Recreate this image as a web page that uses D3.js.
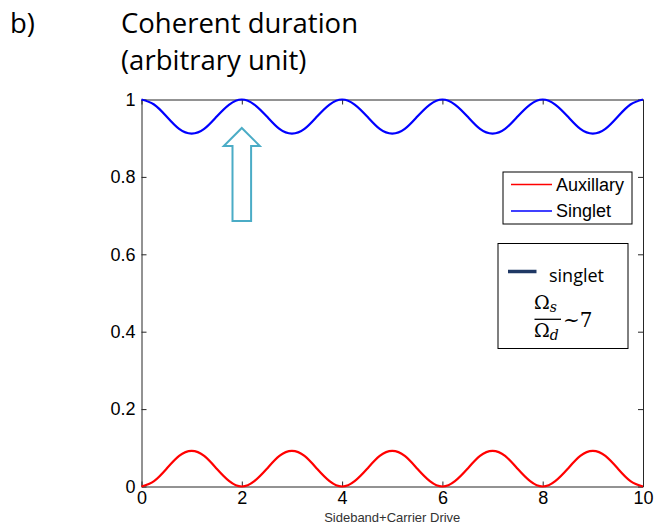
<!DOCTYPE html>
<html>
<head>
<meta charset="utf-8">
<script src="https://cdn.jsdelivr.net/npm/d3@7"></script>
<style>
  html, body { margin: 0; padding: 0; background: #fff; }
  svg { display: block; }
</style>
</head>
<body>
<div id="chart"></div>
<script>
// Drive parameter samples (x axis)
const drive = [
  0, 0.25, 0.5, 0.75, 1, 1.25, 1.5, 1.75,
  2, 2.25, 2.5, 2.75, 3, 3.25, 3.5, 3.75,
  4, 4.25, 4.5, 4.75, 5, 5.25, 5.5, 5.75,
  6, 6.25, 6.5, 6.75, 7, 7.25, 7.5, 7.75,
  8, 8.25, 8.5, 8.75, 9, 9.25, 9.5, 9.75, 10
];
// Coherent duration of the auxillary level
const auxillary = [
  0, 0.014, 0.046, 0.079, 0.092, 0.079, 0.046, 0.014,
  0, 0.014, 0.046, 0.079, 0.092, 0.079, 0.046, 0.014,
  0, 0.014, 0.046, 0.079, 0.092, 0.079, 0.046, 0.014,
  0, 0.014, 0.046, 0.079, 0.092, 0.079, 0.046, 0.014,
  0, 0.014, 0.046, 0.079, 0.092, 0.079, 0.046, 0.014, 0
];
// Coherent duration of the singlet level
const singlet = [
  1, 0.987, 0.956, 0.924, 0.912, 0.924, 0.956, 0.987,
  1, 0.987, 0.956, 0.924, 0.912, 0.924, 0.956, 0.987,
  1, 0.987, 0.956, 0.924, 0.912, 0.924, 0.956, 0.987,
  1, 0.987, 0.956, 0.924, 0.912, 0.924, 0.956, 0.987,
  1, 0.987, 0.956, 0.924, 0.912, 0.924, 0.956, 0.987, 1
];
const xTicks = [0, 2, 4, 6, 8, 10];
const yTicks = [0, 0.2, 0.4, 0.6, 0.8, 1];
const seriesNames = ["Auxillary", "Singlet"];
const seriesColors = ["#ff0000", "#0000ff"];

const W = 654, H = 525;
const plot = { left: 141.5, right: 643, top: 99.5, bottom: 486.5 };

const svg = d3.select("#chart").append("svg")
  .attr("width", W).attr("height", H);

const x = d3.scaleLinear().domain([0, 10]).range([plot.left, plot.right]);
const y = d3.scaleLinear().domain([0, 1]).range([plot.bottom, plot.top]);

// Heading
const headFont = "'Open Sans', 'DejaVu Sans', sans-serif";
svg.append("text").attr("x", 10).attr("y", 33)
  .attr("font-family", headFont).attr("font-size", 27.5).attr("fill", "#000")
  .text("b)");
svg.append("text").attr("x", 121).attr("y", 33)
  .attr("font-family", headFont).attr("font-size", 27.5).attr("fill", "#000")
  .text("Coherent duration");
svg.append("text").attr("x", 121).attr("y", 70)
  .attr("font-family", headFont).attr("font-size", 27.5).attr("fill", "#000")
  .text("(arbitrary unit)");

// Axes: inward ticks on all four sides
const axisFont = "'Liberation Sans', Arial, sans-serif";
const frameColor = "#262626";

function styleAxis(g) {
  g.selectAll(".domain").attr("stroke", frameColor).attr("stroke-width", 1);
  g.selectAll(".tick line").attr("stroke", frameColor);
  g.selectAll(".tick text").attr("fill", "#000")
    .attr("font-family", axisFont).attr("font-size", 18);
}

svg.append("g").attr("transform", `translate(0,${plot.bottom})`)
  .call(d3.axisBottom(x).tickValues(xTicks).tickFormat(d3.format("d"))
    .tickSizeInner(-5).tickSizeOuter(0).tickPadding(5))
  .call(styleAxis);

svg.append("g").attr("transform", `translate(${plot.left},0)`)
  .call(d3.axisLeft(y).tickValues(yTicks).tickFormat(d => d === 0 || d === 1 ? String(d) : d3.format(".1f")(d))
    .tickSizeInner(-5).tickSizeOuter(0).tickPadding(6))
  .call(styleAxis);

svg.append("g").attr("transform", `translate(0,${plot.top})`)
  .call(d3.axisTop(x).tickValues(xTicks).tickFormat("")
    .tickSizeInner(-5).tickSizeOuter(0))
  .call(styleAxis);

svg.append("g").attr("transform", `translate(${plot.right},0)`)
  .call(d3.axisRight(y).tickValues(yTicks).tickFormat("")
    .tickSizeInner(-5).tickSizeOuter(0))
  .call(styleAxis);

// X axis title
svg.append("text")
  .attr("x", (plot.left + plot.right) / 2).attr("y", 522)
  .attr("text-anchor", "middle")
  .attr("font-family", axisFont).attr("font-size", 13).attr("fill", "#333")
  .text("Sideband+Carrier Drive");

// Curves
const line = d3.line().curve(d3.curveNatural)
  .x((d, i) => x(drive[i])).y(d => y(d));

[auxillary, singlet].forEach((vals, k) => {
  svg.append("path").datum(vals)
    .attr("d", line)
    .attr("fill", "none")
    .attr("stroke", seriesColors[k])
    .attr("stroke-width", 2.2)
    .attr("stroke-linejoin", "round");
});

// Series legend
const leg = svg.append("g").attr("transform", "translate(503,172)");
leg.append("rect").attr("width", 129).attr("height", 52)
  .attr("fill", "#fff").attr("stroke", "#000").attr("stroke-width", 1);
seriesNames.forEach((name, k) => {
  const ly = 12.5 + k * 26.5;
  leg.append("line").attr("x1", 8).attr("x2", 49).attr("y1", ly).attr("y2", ly)
    .attr("stroke", seriesColors[k]).attr("stroke-width", 1.5);
  leg.append("text").attr("x", 53).attr("y", ly + 6)
    .attr("font-family", axisFont).attr("font-size", 18).attr("fill", "#000")
    .text(name);
});

// Annotation box: singlet frequency ratio
const note = svg.append("g").attr("transform", "translate(498,243.5)");
note.append("rect").attr("width", 130).attr("height", 105)
  .attr("fill", "#fff").attr("stroke", "#000").attr("stroke-width", 1);
note.append("line").attr("x1", 10).attr("x2", 38.5).attr("y1", 28).attr("y2", 28)
  .attr("stroke", "#1f3864").attr("stroke-width", 3.5);
note.append("text").attr("x", 51).attr("y", 38)
  .attr("font-family", headFont).attr("font-size", 18).attr("fill", "#000")
  .text("singlet");
const mathFont = "'DejaVu Serif', 'Liberation Serif', serif";
const num = note.append("text").attr("x", 36).attr("y", 65.5)
  .attr("font-family", mathFont).attr("font-size", 19).attr("fill", "#000");
num.append("tspan").text("Ω");
num.append("tspan").attr("dy", 3).attr("font-size", 14).attr("font-style", "italic").text("s");
note.append("line").attr("x1", 36.5).attr("x2", 63).attr("y1", 75.8).attr("y2", 75.8)
  .attr("stroke", "#000").attr("stroke-width", 1.3);
const den = note.append("text").attr("x", 36).attr("y", 93)
  .attr("font-family", mathFont).attr("font-size", 19).attr("fill", "#000");
den.append("tspan").text("Ω");
den.append("tspan").attr("dy", 3).attr("font-size", 14).attr("font-style", "italic").text("d");
note.append("text").attr("x", 65).attr("y", 83)
  .attr("font-family", mathFont).attr("font-size", 20).attr("fill", "#000")
  .text("~7");

// Hollow arrow pointing at the singlet maximum at x = 2
const ax = x(2);
const arrowPts = [
  [ax, 128], [ax + 18, 146], [ax + 9.3, 146], [ax + 9.3, 221],
  [ax - 9.3, 221], [ax - 9.3, 146], [ax - 18, 146]
];
svg.append("polygon")
  .attr("points", arrowPts.map(p => p.join(",")).join(" "))
  .attr("fill", "none").attr("stroke", "#4bacc6").attr("stroke-width", 2);
</script>
</body>
</html>
